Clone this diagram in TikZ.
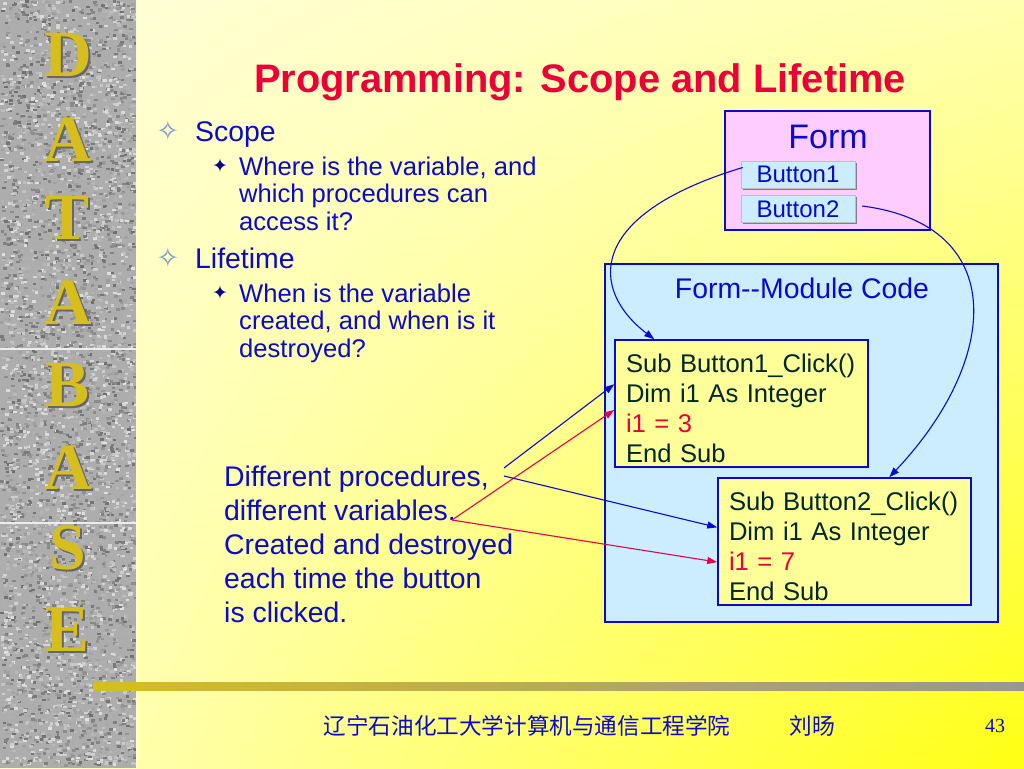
\documentclass[tikz,border=0pt]{standalone}
\usepackage{fontspec}
\setmainfont{Liberation Sans}
\newfontfamily\letterfont{Liberation Serif}
\newfontfamily\symfont{DejaVu Sans}
\newfontfamily\cjk{Noto Sans CJK SC}
\usetikzlibrary{arrows.meta, calc, shadows, shadings}

\definecolor{titlered}{RGB}{235,0,55}
\definecolor{slideblue}{RGB}{10,10,205}
\definecolor{starblue}{RGB}{120,150,205}
\definecolor{formpink}{RGB}{255,204,255}
\definecolor{codeblue}{RGB}{204,236,255}
\definecolor{subyellow}{RGB}{255,255,153}
\definecolor{codetext}{RGB}{0,40,40}
\definecolor{codered}{RGB}{235,0,60}
\definecolor{arrowred}{RGB}{235,0,75}
\definecolor{gold}{RGB}{214,190,30}
\definecolor{bargray}{RGB}{150,150,150}
\definecolor{bg_ul}{RGB}{255,255,218}
\definecolor{bg_ur}{RGB}{255,255,175}
\definecolor{bg_ll}{RGB}{255,255,195}
\definecolor{bg_lr}{RGB}{255,255,20}

\begin{document}
\begin{tikzpicture}[x=1pt,y=-1pt,
  db_letter/.style={font=\letterfont\bfseries\fontsize{66}{66}\selectfont, text=gold, inner sep=0},
  letter_shadow/.style={font=\letterfont\bfseries\fontsize{66}{66}\selectfont, text=black!60, inner sep=0},
  bullet_one/.style={font=\symfont\fontsize{27}{27}\selectfont, text=starblue, inner sep=0},
  bullet_two/.style={font=\symfont\fontsize{19}{19}\selectfont, text=slideblue!70!black, inner sep=0},
  item_one/.style={font=\fontsize{28.4}{34}\selectfont, text=slideblue, inner sep=0, anchor=base west},
  item_two/.style={font=\fontsize{25.6}{27.5}\selectfont, text=slideblue, inner sep=0, align=left, anchor=base west},
  button/.style={draw=gray!50, fill=codeblue, minimum width=114, minimum height=27, inner sep=0,
    font=\fontsize{24}{24}\selectfont, text=slideblue,
    drop shadow={shadow xshift=1.5pt, shadow yshift=-1.5pt, fill=gray, opacity=1}},
  code_box/.style={draw=slideblue, line width=1.5, fill=subyellow, text width=231, inner xsep=11, inner ysep=0,
    minimum height=127, align=left, text=codetext, font=\fontsize{25.6}{30}\selectfont},
  link/.style={-{Triangle[length=10pt,width=7pt]}, line width=1.1, slideblue},
  red_link/.style={-{Triangle[length=10pt,width=7pt]}, line width=1.1, arrowred}
]
\useasboundingbox (0,0) rectangle (1024,768);
%\draw[help lines, color=gray!30] (0,0) grid[step=50] (1024,768);

% background
\shade[upper left=bg_ul, upper right=bg_ur, lower left=bg_ll, lower right=bg_lr] (0,0) rectangle (1024,768);

% granite side bar
\fill[black!32] (0,0) rectangle (137,768);
\pgfmathsetseed{4242}
\foreach \i in {1,...,5200}{
  \pgfmathsetmacro{\gx}{rnd*134}
  \pgfmathsetmacro{\gy}{rnd*765}
  \pgfmathtruncatemacro{\gs}{12+rnd*45}
  \fill[black!\gs] (\gx,\gy) rectangle ++(3.5,2.5);
}
\draw[white!85!gray, line width=1.2] (0,349) -- (137,349);
\draw[white!85!gray, line width=1.2] (0,523) -- (137,523);
\draw[white!80!yellow, line width=1.5] (137,0) -- (137,768);

\foreach \ch/\yy [count=\k] in {D/55,A/140,T/218,A/303,B/385,A/468,S/548,E/630}{
  \node[letter_shadow] at (70,\yy+2) {\ch};
  \node[db_letter] (letter_\k) at (68,\yy) {\ch};
}

% bottom bar
\shade[left color=gold, right color=bargray] (93,682) rectangle (1024,690);

\node[font=\bfseries\fontsize{39.8}{44}\selectfont, text=titlered] (title) at (580,82) {Programming: Scope and Lifetime};

% bullets
\node[bullet_one] (scope_star) at (168,131) {✧};
\node[item_one] (scope) at (195,141) {Scope};
\node[bullet_two] (where_star) at (220,166) {✦};
\node[item_two] (where) at (239,230) {Where is the variable, and\\which procedures can\\access it?};
\node[bullet_one] (life_star) at (168,258) {✧};
\node[item_one] (lifetime) at (195,268) {Lifetime};
\node[bullet_two] (when_star) at (220,293) {✦};
\node[item_two] (when) at (239,357) {When is the variable\\created, and when is it\\destroyed?};

% form
\node[draw=slideblue, line width=1.5, fill=formpink, minimum width=205, minimum height=119] (form_box) at (827.5,170.5) {};
\node[font=\fontsize{34}{40}\selectfont, text=slideblue] (form_title) at (828,137) {Form};
\node[button] (button_one) at (798,174.5) {Button1};
\node[button] (button_two) at (798,209) {Button2};

% module code
\node[draw=slideblue, line width=1.5, fill=codeblue, minimum width=393, minimum height=358] (module_box) at (801.5,443) {};
\node[font=\fontsize{28.4}{34}\selectfont, text=slideblue] (module_title) at (802,288) {Form-{}-Module Code};
\node[code_box] (sub_one) at (741.5,403.5) {\rule{0pt}{28pt}Sub Button1\_Click()\\Dim i1 As Integer\\\textcolor{codered}{i1 = 3}\\End Sub};
\node[code_box] (sub_two) at (844.5,541.5) {\rule{0pt}{28pt}Sub Button2\_Click()\\Dim i1 As Integer\\\textcolor{codered}{i1 = 7}\\End Sub};

\node[item_one, align=left] (different) at (224,622) {Different procedures,\\different variables.\\Created and destroyed\\each time the button\\is clicked.};

% connectors
\draw[link] ($(button_one.west)+(2,-7)$) .. controls (585,215) and (590,290) .. ($(sub_one.north west)+(40,0)$);
\draw[link] ($(button_two.east)+(7,-3)$) .. controls (1010,225) and (1000,360) .. ($(sub_two.north west)+(172,0)$);
\coordinate (procs_end) at (504,468);
\coordinate (procs_end_low) at (504,476);
\coordinate (vars_end) at (452,520);
\draw[link] (procs_end) -- ($(sub_one.north west)!0.35!(sub_one.south west)$);
\draw[red_link] (vars_end) -- ($(sub_one.north west)!0.55!(sub_one.south west)$);
\draw[link] (procs_end_low) -- ($(sub_two.north west)!0.39!(sub_two.south west)$);
\draw[red_link] (vars_end) -- ($(sub_two.north west)!0.66!(sub_two.south west)$);

% footer
\node[font=\cjk\fontsize{22.6}{26}\selectfont, text=slideblue] (school) at (527,726) {辽宁石油化工大学计算机与通信工程学院};
\node[font=\cjk\fontsize{22.6}{26}\selectfont, text=slideblue] (author) at (812,726) {刘旸};
\node[font=\letterfont\fontsize{20}{20}\selectfont, text=slideblue] (page_no) at (995,726) {43};
\end{tikzpicture}
\end{document}
